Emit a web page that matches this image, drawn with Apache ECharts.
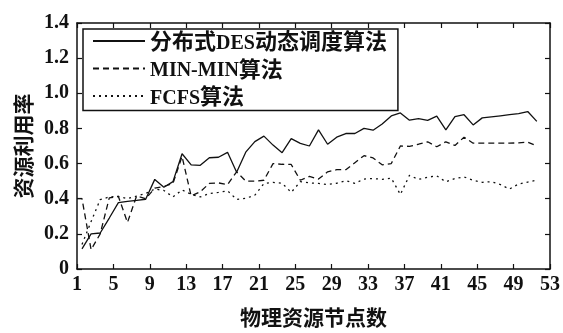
<!DOCTYPE html>
<html>
<head>
<meta charset="utf-8">
<script src="https://cdn.jsdelivr.net/npm/echarts@6/dist/echarts.min.js"></script>
<style>
  html, body { margin: 0; padding: 0; background: #fff; }
  #chart { width: 563px; height: 333px; }
</style>
</head>
<body>
<div id="chart"></div>
<script>
// Physical resource node positions (x) shared by the series
const nodes = [1.55, 2.55, 3.55, 4.55, 5.55, 6.55, 7.55, 8.55, 9.55, 10.55,
  11.55, 12.55, 13.55, 14.55, 15.55, 16.55, 17.55, 18.55, 19.55, 20.55,
  21.55, 22.55, 23.55, 24.55, 25.55, 26.55, 27.55, 28.55, 29.55, 30.55,
  31.55, 32.55, 33.55, 34.55, 35.55, 36.55, 37.55, 38.55, 39.55, 40.55,
  41.55, 42.55, 43.55, 44.55, 45.55, 46.55, 47.55, 48.55, 49.55, 50.55, 51.55];

// Resource utilisation of the distributed DES dynamic scheduling algorithm
const desValues = [0.115, 0.20, 0.205, 0.29, 0.378, 0.385, 0.39, 0.397, 0.51, 0.465,
  0.497, 0.656, 0.593, 0.59, 0.633, 0.636, 0.664, 0.551, 0.665, 0.725,
  0.756, 0.705, 0.662, 0.742, 0.715, 0.70, 0.792, 0.71, 0.75, 0.771,
  0.771, 0.80, 0.79, 0.825, 0.871, 0.888, 0.847, 0.856, 0.846, 0.87,
  0.792, 0.867, 0.878, 0.82, 0.86, 0.866, 0.872, 0.878, 0.884, 0.896, 0.84];

// MIN-MIN algorithm (its trace begins at node 1)
const minMinNodes = [1].concat(nodes);
const minMinValues = [0.40,
  0.40, 0.11, 0.20, 0.405, 0.413, 0.265, 0.415, 0.40, 0.46, 0.47,
  0.487, 0.64, 0.415, 0.44, 0.487, 0.49, 0.48, 0.553, 0.50, 0.50,
  0.505, 0.60, 0.596, 0.595, 0.505, 0.527, 0.512, 0.553, 0.565, 0.565,
  0.605, 0.645, 0.632, 0.593, 0.60, 0.70, 0.698, 0.71, 0.724, 0.696,
  0.724, 0.703, 0.75, 0.716, 0.716, 0.716, 0.716, 0.716, 0.718, 0.722, 0.70];

// FCFS algorithm
const fcfsValues = [0.14, 0.27, 0.395, 0.41, 0.413, 0.40, 0.415, 0.43, 0.455, 0.447,
  0.41, 0.45, 0.425, 0.41, 0.43, 0.436, 0.445, 0.396, 0.402, 0.42,
  0.486, 0.493, 0.488, 0.436, 0.497, 0.49, 0.487, 0.481, 0.488, 0.503,
  0.487, 0.512, 0.515, 0.51, 0.517, 0.424, 0.533, 0.51, 0.522, 0.53,
  0.496, 0.515, 0.524, 0.505, 0.493, 0.497, 0.48, 0.455, 0.484, 0.495, 0.505];

const seriesNames = ['分布式DES动态调度算法', 'MIN-MIN算法', 'FCFS算法'];
const xTicks = [1, 5, 9, 13, 17, 21, 25, 29, 33, 37, 41, 45, 49, 53];
const yTicks = [0, 0.2, 0.4, 0.6, 0.8, 1.0, 1.2, 1.4];

const FONT = 'Liberation Serif, Times New Roman, Noto Sans CJK SC, serif';
const CJK_FONT = 'Noto Sans CJK SC, sans-serif';
const INK = '#111';

function pairs(xs, ys) { return ys.map((v, i) => [xs[i], v]); }

// Split a legend name into Latin and CJK runs so each gets its own style
function richName(name) {
  return name.replace(/([\u4e00-\u9fff]+)|([^\u4e00-\u9fff]+)/g,
    (m, cjk, lat) => (cjk ? '{c|' + cjk + '}' : '{l|' + lat + '}'));
}

const axisLine = { show: true, onZero: false, lineStyle: { color: INK, width: 1.5 } };
const tickStyle = { show: true, inside: true, length: 5, lineStyle: { color: INK, width: 1.2 } };

const chart = echarts.init(document.getElementById('chart'), null, { renderer: 'canvas' });
chart.setOption({
  animation: false,
  backgroundColor: '#fff',
  grid: { left: 77, right: 13, top: 23, bottom: 54, containLabel: false },
  legend: {
    data: seriesNames,
    orient: 'vertical',
    left: 83, top: 29,
    padding: [1, 11, 2, 9],
    itemGap: 4,
    itemWidth: 52, itemHeight: 14,
    itemStyle: { opacity: 0 },
    backgroundColor: '#fff',
    borderColor: INK, borderWidth: 1.5, borderRadius: 0,
    formatter: richName,
    textStyle: {
      color: INK,
      rich: {
        l: { fontFamily: FONT, fontSize: 20, fontWeight: 'bold', color: INK, padding: [5, 0, 0, 0] },
        c: { fontFamily: CJK_FONT, fontSize: 22, fontWeight: 'bold', color: INK }
      }
    }
  },
  xAxis: [{
    type: 'value', position: 'bottom', min: 1, max: 53,
    axisLine: axisLine,
    axisTick: Object.assign({ customValues: xTicks }, tickStyle),
    axisLabel: { customValues: xTicks, margin: 6, color: INK, fontFamily: FONT, fontSize: 20, fontWeight: 'bold' },
    splitLine: { show: false },
    name: '物理资源节点数', nameLocation: 'middle', nameGap: 38,
    nameTextStyle: { fontFamily: CJK_FONT, fontSize: 21, fontWeight: 'bold', color: INK }
  }, {
    type: 'value', position: 'top', min: 1, max: 53,
    axisLine: axisLine,
    axisTick: Object.assign({ customValues: xTicks }, tickStyle),
    axisLabel: { show: false },
    splitLine: { show: false }
  }],
  yAxis: [{
    type: 'value', position: 'left', min: 0, max: 1.4, interval: 0.2,
    axisLine: axisLine,
    axisTick: Object.assign({ customValues: yTicks }, tickStyle),
    axisLabel: {
      customValues: yTicks, margin: 8, color: INK, fontFamily: FONT, fontSize: 20, fontWeight: 'bold',
      formatter: v => (v === 0 ? '0' : v.toFixed(1))
    },
    splitLine: { show: false },
    name: '资源利用率', nameLocation: 'middle', nameGap: 40, nameRotate: 90,
    nameTextStyle: { fontFamily: CJK_FONT, fontSize: 21, fontWeight: 'bold', color: INK }
  }, {
    type: 'value', position: 'right', min: 0, max: 1.4, interval: 0.2,
    axisLine: axisLine,
    axisTick: Object.assign({ customValues: yTicks }, tickStyle),
    axisLabel: { show: false },
    splitLine: { show: false }
  }],
  series: [{
    name: seriesNames[0], type: 'line', xAxisIndex: 0, yAxisIndex: 0,
    symbol: 'none', showSymbol: false,
    lineStyle: { color: INK, width: 1.3, type: 'solid' },
    itemStyle: { color: INK },
    data: pairs(nodes, desValues)
  }, {
    name: seriesNames[1], type: 'line', xAxisIndex: 0, yAxisIndex: 0,
    symbol: 'none', showSymbol: false,
    lineStyle: { color: INK, width: 1.3, type: [6, 4] },
    itemStyle: { color: INK },
    data: pairs(minMinNodes, minMinValues)
  }, {
    name: seriesNames[2], type: 'line', xAxisIndex: 0, yAxisIndex: 0,
    symbol: 'none', showSymbol: false,
    lineStyle: { color: INK, width: 1.3, type: [2, 4] },
    itemStyle: { color: INK },
    data: pairs(nodes, fcfsValues)
  }]
});
</script>
</body>
</html>
